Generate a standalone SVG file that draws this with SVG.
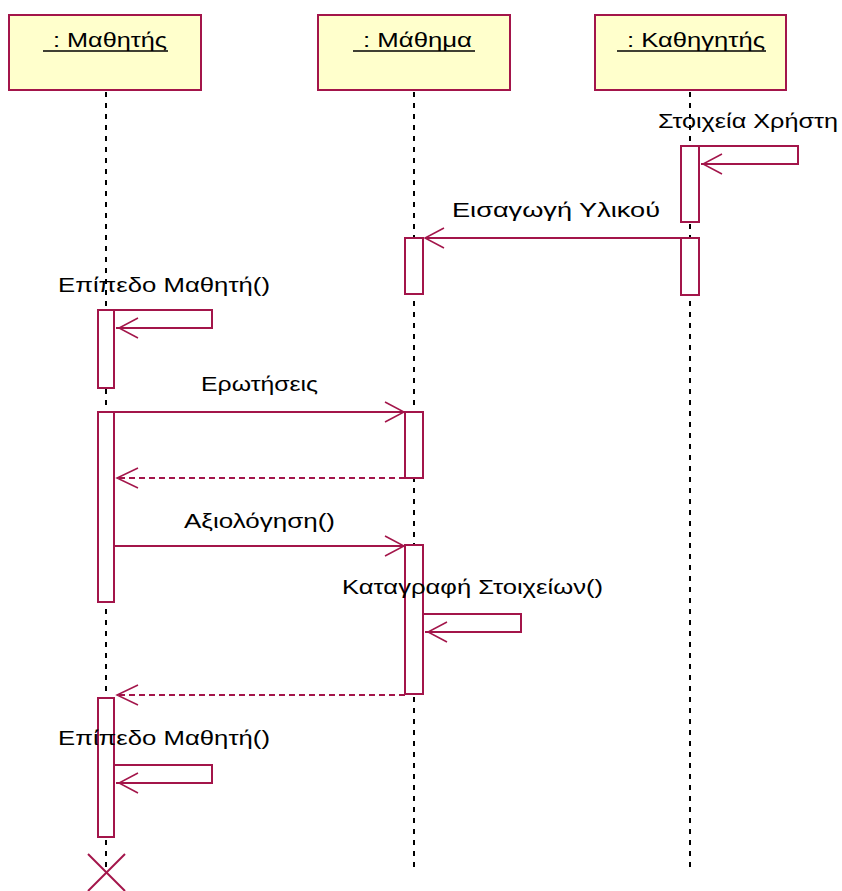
<svg xmlns="http://www.w3.org/2000/svg" width="842" height="891" viewBox="0 0 842 891">
<defs>
<style>
.box{fill:#FFFFCC;stroke:#A3154A;stroke-width:2}
.act{fill:#FFFFFF;stroke:#A3154A;stroke-width:2}
.life{stroke:#000;stroke-width:2;stroke-dasharray:5 6;fill:none}
.msg{stroke:#A3154A;stroke-width:2;fill:none}
.ret{stroke:#A3154A;stroke-width:2;fill:none;stroke-dasharray:6 4}
.head{stroke:#A3154A;stroke-width:1.5;fill:none}
.ul{stroke:#000;stroke-width:1.5}
.t{font-family:"Liberation Sans",Arial,sans-serif;font-size:21px;fill:#000}
</style>
</defs>
<rect width="842" height="891" fill="#fff"/>
<g id="lifelines">
<line class="life" x1="106" y1="92" x2="106" y2="870"/>
<line class="life" x1="414" y1="92" x2="414" y2="868"/>
<line class="life" x1="690" y1="92" x2="690" y2="868"/>
</g>
<g id="obj-mathitis">
<rect class="box" x="9" y="15" width="192" height="75"/>
<text class="t" x="53" y="47" textLength="114" lengthAdjust="spacingAndGlyphs">: Μαθητής</text>
<line class="ul" x1="43" y1="51" x2="168" y2="51"/>
</g>
<g id="obj-mathima">
<rect class="box" x="318" y="15" width="192" height="75"/>
<text class="t" x="363" y="47" textLength="109" lengthAdjust="spacingAndGlyphs">: Μάθημα</text>
<line class="ul" x1="353" y1="51" x2="475" y2="51"/>
</g>
<g id="obj-kathigitis">
<rect class="box" x="595" y="15" width="191" height="75"/>
<text class="t" x="627" y="47" textLength="138" lengthAdjust="spacingAndGlyphs">: Καθηγητής</text>
<line class="ul" x1="617" y1="51" x2="766" y2="51"/>
</g>
<g id="activations">
<rect class="act" x="681" y="146" width="18" height="76"/>
<rect class="act" x="681" y="238" width="18" height="57"/>
<rect class="act" x="405" y="238" width="18" height="56"/>
<rect class="act" x="98" y="310" width="16" height="78"/>
<rect class="act" x="98" y="412" width="16" height="190"/>
<rect class="act" x="405" y="412" width="18" height="66"/>
<rect class="act" x="405" y="545" width="18" height="149"/>
<rect class="act" x="98" y="698" width="16" height="139"/>
</g>
<g id="connectors">
<polyline class="msg" points="699,146 798,146 798,164 701,164"/>
<polyline class="head" points="722,154 703,164 722,174"/>
<line class="msg" x1="699" y1="238" x2="425" y2="238"/>
<polyline class="head" points="444,228 425,238 444,248"/>
<polyline class="msg" points="114,310 212,310 212,328 116,328"/>
<polyline class="head" points="138,318 119,328 138,338"/>
<line class="msg" x1="114" y1="412" x2="404" y2="412"/>
<polyline class="head" points="385,402 404,412 385,422"/>
<line class="ret" x1="405" y1="478" x2="116" y2="478"/>
<polyline class="head" points="138,468 117,478 138,488"/>
<line class="msg" x1="114" y1="546" x2="404" y2="546"/>
<polyline class="head" points="385,536 404,546 385,556"/>
<polyline class="msg" points="423,614 521,614 521,632 425,632"/>
<polyline class="head" points="447,622 428,632 447,642"/>
<line class="ret" x1="405" y1="695" x2="116" y2="695"/>
<polyline class="head" points="138,685 117,695 138,705"/>
<polyline class="msg" points="114,765 212,765 212,783 116,783"/>
<polyline class="head" points="138,773 119,783 138,793"/>
<line class="msg" x1="88" y1="854" x2="125" y2="891"/>
<line class="msg" x1="125" y1="854" x2="88" y2="891"/>
</g>
<g id="labels">
<text class="t" x="658" y="128" textLength="180" lengthAdjust="spacingAndGlyphs">Στοιχεία Χρήστη</text>
<text class="t" x="452" y="217" textLength="208" lengthAdjust="spacingAndGlyphs">Εισαγωγή Υλικού</text>
<text class="t" x="58" y="292" textLength="212" lengthAdjust="spacingAndGlyphs">Επίπεδο Μαθητή()</text>
<text class="t" x="201" y="391" textLength="117" lengthAdjust="spacingAndGlyphs">Ερωτήσεις</text>
<text class="t" x="184" y="528" textLength="151" lengthAdjust="spacingAndGlyphs">Αξιολόγηση()</text>
<text class="t" x="342" y="594" textLength="261" lengthAdjust="spacingAndGlyphs">Καταγραφή Στοιχείων()</text>
<text class="t" x="58" y="745" textLength="212" lengthAdjust="spacingAndGlyphs">Επίπεδο Μαθητή()</text>
</g>
</svg>
